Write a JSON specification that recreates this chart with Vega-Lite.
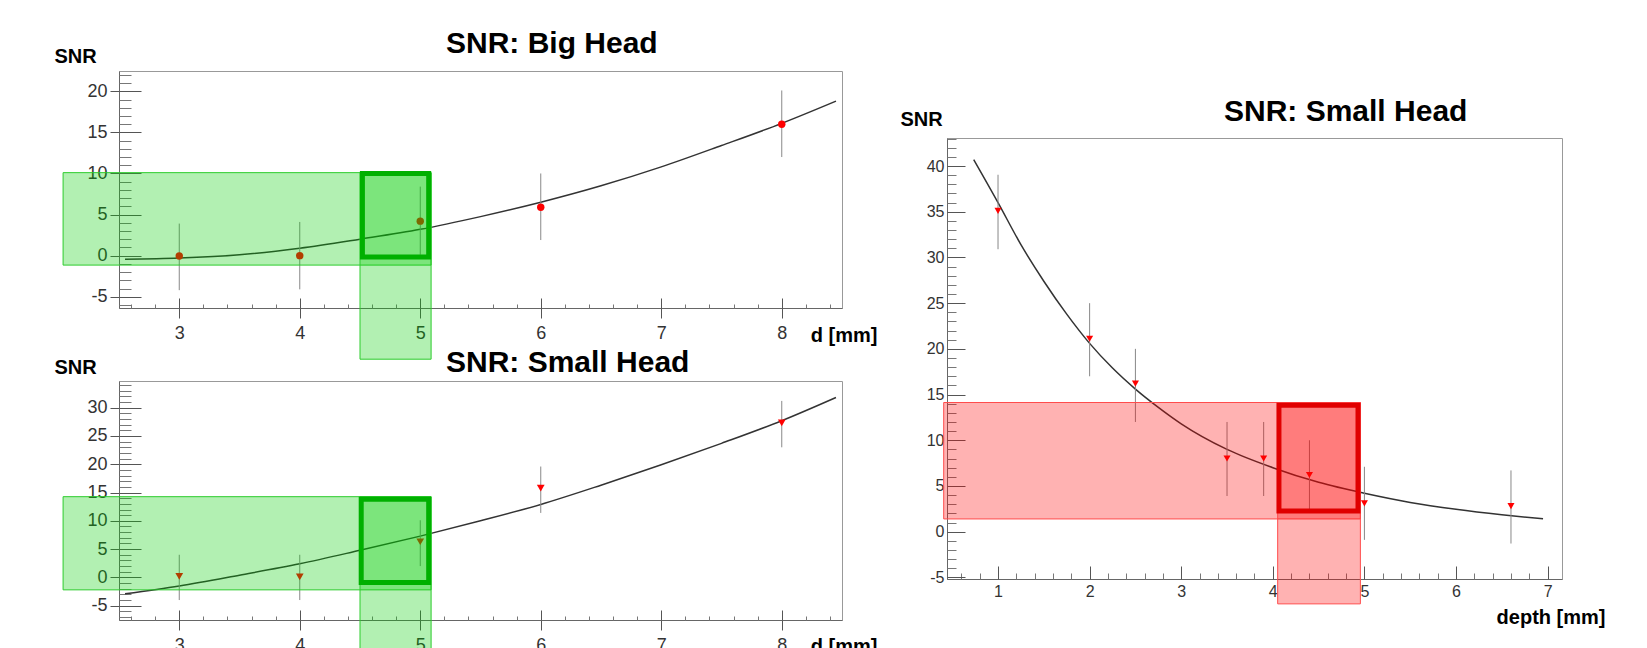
{
  "$schema": "https://vega.github.io/schema/vega-lite/v6.json",
  "background": "white",
  "padding": {"left": 53, "top": 28, "right": 5, "bottom": 0},
  "config": {
    "view": {"stroke": "#999", "strokeWidth": 1},
    "font": "Liberation Sans",
    "axis": {"grid": false, "labelOverlap": false, "labelFlush": false, "tickColor": "#555", "domainColor": "#666", "labelColor": "#333", "labelFont": "Liberation Sans Narrow, Liberation Sans, sans-serif", "titleFont": "Liberation Sans", "titleColor": "#000", "titleFontWeight": "bold", "labelExpr": "replace(datum.label, '\u2212', '-')"}
  },
  "spacing": 21,
  "bounds": "full",
  "hconcat": [
    {
      "spacing": 73,
      "bounds": "flush",
      "vconcat": [
        {
          "width": 723,
          "height": 237,
          "title": {"text": "SNR: Big Head", "anchor": "start", "frame": "group", "dx": 327, "dy": 37, "offset": 0, "baseline": "alphabetic", "fontSize": 30, "fontWeight": "bold", "font": "Liberation Sans", "color": "#000"},
          "resolve": {"axis": {"x": "independent", "y": "independent"}},
          "layer": [
            {
              "data": {"values": [{"d": 3, "snr": 0}]},
              "mark": {"type": "point", "opacity": 0},
              "encoding": {
                "x": {"field": "d", "type": "quantitative", "scale": {"domain": [2.5, 8.5], "nice": false, "zero": false},
                  "axis": {"orient": "bottom", "values": [3, 4, 5, 6, 7, 8], "tickSize": 10, "labelPadding": 6, "labelFontSize": 18, "title": "d [mm]", "titleFontSize": 20, "titleX": 758, "titleY": 33, "titleAlign": "right", "titleBaseline": "alphabetic"}},
                "y": {"field": "snr", "type": "quantitative", "scale": {"domain": [-6.37, 22.47], "nice": false, "zero": false},
                  "axis": {"orient": "left", "values": [-5, 0, 5, 10, 15, 20], "tickSize": 9, "labelPadding": 3, "labelFontSize": 18, "title": "SNR", "titleAngle": 0, "titleFontSize": 20, "titleX": -65, "titleY": -9, "titleAlign": "left", "titleBaseline": "alphabetic"}}
              }
            },
            {
              "data": {"values": [{"d": 3, "snr": 0}]},
              "mark": {"type": "point", "opacity": 0},
              "encoding": {
                "x": {"field": "d", "type": "quantitative", "scale": {"domain": [2.5, 8.5], "nice": false, "zero": false},
                  "axis": {"orient": "bottom", "values": [3, 4, 5, 6, 7, 8], "tickSize": -10, "labels": false, "domain": false, "title": null}},
                "y": {"field": "snr", "type": "quantitative", "scale": {"domain": [-6.37, 22.47], "nice": false, "zero": false},
                  "axis": {"orient": "left", "values": [-5, 0, 5, 10, 15, 20], "tickSize": -22, "labels": false, "domain": false, "title": null}}
              }
            },
            {
              "data": {"values": [{"d": 3, "snr": 0}]},
              "mark": {"type": "point", "opacity": 0},
              "encoding": {
                "x": {"field": "d", "type": "quantitative", "scale": {"domain": [2.5, 8.5], "nice": false, "zero": false},
                  "axis": {"orient": "bottom", "values": [2.6, 2.8, 3.2, 3.4, 3.6, 3.8, 4.2, 4.4, 4.6, 4.8, 5.2, 5.4, 5.6, 5.8, 6.2, 6.4, 6.6, 6.8, 7.2, 7.4, 7.6, 7.8, 8.2, 8.4], "tickSize": -4, "tickColor": "#777", "labels": false, "domain": false, "title": null}},
                "y": {"field": "snr", "type": "quantitative", "scale": {"domain": [-6.37, 22.47], "nice": false, "zero": false},
                  "axis": {"orient": "left", "values": [-6, -4, -3, -2, -1, 1, 2, 3, 4, 6, 7, 8, 9, 11, 12, 13, 14, 16, 17, 18, 19, 21, 22], "tickSize": -12, "tickColor": "#777", "labels": false, "domain": false, "title": null}}
              }
            },
            {
              "data": {"values": [
                {"d": 2.55, "snr": -0.45}, {"d": 3.0, "snr": -0.3}, {"d": 3.5, "snr": 0.1}, {"d": 4.0, "snr": 0.9},
                {"d": 4.5, "snr": 2.0}, {"d": 5.0, "snr": 3.2}, {"d": 5.5, "snr": 4.75}, {"d": 6.0, "snr": 6.5},
                {"d": 6.5, "snr": 8.5}, {"d": 7.0, "snr": 10.8}, {"d": 7.5, "snr": 13.4}, {"d": 8.0, "snr": 16.1}, {"d": 8.45, "snr": 18.8}
              ]},
              "mark": {"type": "line", "color": "#333", "strokeWidth": 1.5, "interpolate": "monotone"},
              "encoding": {
                "x": {"field": "d", "type": "quantitative", "scale": {"domain": [2.5, 8.5], "nice": false, "zero": false}, "axis": null},
                "y": {"field": "snr", "type": "quantitative", "scale": {"domain": [-6.37, 22.47], "nice": false, "zero": false}, "axis": null}
              }
            },
            {
              "data": {"values": [
                {"d": 3, "snr": -0.05, "lo": -4.2, "hi": 3.9},
                {"d": 4, "snr": 0.0, "lo": -4.1, "hi": 4.1},
                {"d": 5, "snr": 4.2, "lo": 0.1, "hi": 8.4},
                {"d": 6, "snr": 5.9, "lo": 1.9, "hi": 10.0},
                {"d": 8, "snr": 16.0, "lo": 12.0, "hi": 20.1}
              ]},
              "layer": [
                {
                  "mark": {"type": "rule", "color": "#888", "strokeWidth": 1},
                  "encoding": {
                    "x": {"field": "d", "type": "quantitative", "scale": {"domain": [2.5, 8.5], "nice": false, "zero": false}, "axis": null},
                    "y": {"field": "lo", "type": "quantitative", "scale": {"domain": [-6.37, 22.47], "nice": false, "zero": false}, "axis": null},
                    "y2": {"field": "hi"}
                  }
                },
                {
                  "mark": {"type": "point", "shape": "circle", "filled": true, "color": "#ff0000", "size": 55, "opacity": 1},
                  "encoding": {
                    "x": {"field": "d", "type": "quantitative", "scale": {"domain": [2.5, 8.5], "nice": false, "zero": false}, "axis": null},
                    "y": {"field": "snr", "type": "quantitative", "scale": {"domain": [-6.37, 22.47], "nice": false, "zero": false}, "axis": null}
                  }
                }
              ]
            },
            {
              "data": {"values": [
                {"a": 2.036, "b": 5.09, "lo": -1.15, "hi": 10.1},
                {"a": 4.5, "b": 5.09, "lo": -12.6, "hi": 10.1}
              ]},
              "mark": {"type": "rect", "fill": "#00cc00", "fillOpacity": 0.3, "stroke": "#2ccc2c", "strokeWidth": 1},
              "encoding": {
                "x": {"field": "a", "type": "quantitative", "scale": {"domain": [2.5, 8.5], "nice": false, "zero": false}, "axis": null},
                "x2": {"field": "b"},
                "y": {"field": "lo", "type": "quantitative", "scale": {"domain": [-6.37, 22.47], "nice": false, "zero": false}, "axis": null},
                "y2": {"field": "hi"}
              }
            },
            {
              "data": {"values": [{"a": 4.52, "b": 5.07, "lo": -0.15, "hi": 10.0}]},
              "mark": {"type": "rect", "fill": "#00b000", "fillOpacity": 0, "stroke": "#00b000", "strokeWidth": 5},
              "encoding": {
                "x": {"field": "a", "type": "quantitative", "scale": {"domain": [2.5, 8.5], "nice": false, "zero": false}, "axis": null},
                "x2": {"field": "b"},
                "y": {"field": "lo", "type": "quantitative", "scale": {"domain": [-6.37, 22.47], "nice": false, "zero": false}, "axis": null},
                "y2": {"field": "hi"}
              }
            }
          ]
        },
        {
          "width": 723,
          "height": 239,
          "title": {"text": "SNR: Small Head", "anchor": "start", "frame": "group", "dx": 327, "dy": 45, "offset": 0, "baseline": "alphabetic", "fontSize": 30, "fontWeight": "bold", "font": "Liberation Sans", "color": "#000"},
          "resolve": {"axis": {"x": "independent", "y": "independent"}},
          "layer": [
            {
              "data": {"values": [{"d": 3, "snr": 0}]},
              "mark": {"type": "point", "opacity": 0},
              "encoding": {
                "x": {"field": "d", "type": "quantitative", "scale": {"domain": [2.5, 8.5], "nice": false, "zero": false},
                  "axis": {"orient": "bottom", "values": [3, 4, 5, 6, 7, 8], "tickSize": 10, "labelPadding": 6, "labelFontSize": 18, "title": "d [mm]", "titleFontSize": 20, "titleX": 758, "titleY": 32, "titleAlign": "right", "titleBaseline": "alphabetic"}},
                "y": {"field": "snr", "type": "quantitative", "scale": {"domain": [-7.53, 34.72], "nice": false, "zero": false},
                  "axis": {"orient": "left", "values": [-5, 0, 5, 10, 15, 20, 25, 30], "tickSize": 9, "labelPadding": 3, "labelFontSize": 18, "title": "SNR", "titleAngle": 0, "titleFontSize": 20, "titleX": -65, "titleY": -8, "titleAlign": "left", "titleBaseline": "alphabetic"}}
              }
            },
            {
              "data": {"values": [{"d": 3, "snr": 0}]},
              "mark": {"type": "point", "opacity": 0},
              "encoding": {
                "x": {"field": "d", "type": "quantitative", "scale": {"domain": [2.5, 8.5], "nice": false, "zero": false},
                  "axis": {"orient": "bottom", "values": [3, 4, 5, 6, 7, 8], "tickSize": -10, "labels": false, "domain": false, "title": null}},
                "y": {"field": "snr", "type": "quantitative", "scale": {"domain": [-7.53, 34.72], "nice": false, "zero": false},
                  "axis": {"orient": "left", "values": [-5, 0, 5, 10, 15, 20, 25, 30], "tickSize": -22, "labels": false, "domain": false, "title": null}}
              }
            },
            {
              "data": {"values": [{"d": 3, "snr": 0}]},
              "mark": {"type": "point", "opacity": 0},
              "encoding": {
                "x": {"field": "d", "type": "quantitative", "scale": {"domain": [2.5, 8.5], "nice": false, "zero": false},
                  "axis": {"orient": "bottom", "values": [2.6, 2.8, 3.2, 3.4, 3.6, 3.8, 4.2, 4.4, 4.6, 4.8, 5.2, 5.4, 5.6, 5.8, 6.2, 6.4, 6.6, 6.8, 7.2, 7.4, 7.6, 7.8, 8.2, 8.4], "tickSize": -4, "tickColor": "#777", "labels": false, "domain": false, "title": null}},
                "y": {"field": "snr", "type": "quantitative", "scale": {"domain": [-7.53, 34.72], "nice": false, "zero": false},
                  "axis": {"orient": "left", "values": [-7, -6, -4, -3, -2, -1, 1, 2, 3, 4, 6, 7, 8, 9, 11, 12, 13, 14, 16, 17, 18, 19, 21, 22, 23, 24, 26, 27, 28, 29, 31, 32, 33, 34], "tickSize": -12, "tickColor": "#777", "labels": false, "domain": false, "title": null}}
              }
            },
            {
              "data": {"values": [
                {"d": 2.55, "snr": -2.9}, {"d": 3.0, "snr": -1.5}, {"d": 3.5, "snr": 0.4}, {"d": 4.0, "snr": 2.4},
                {"d": 4.5, "snr": 4.8}, {"d": 5.0, "snr": 7.3}, {"d": 5.5, "snr": 10.0}, {"d": 6.0, "snr": 12.9},
                {"d": 6.5, "snr": 16.3}, {"d": 7.0, "snr": 19.9}, {"d": 7.5, "snr": 23.7}, {"d": 8.0, "snr": 27.7}, {"d": 8.45, "snr": 31.8}
              ]},
              "mark": {"type": "line", "color": "#333", "strokeWidth": 1.5, "interpolate": "monotone"},
              "encoding": {
                "x": {"field": "d", "type": "quantitative", "scale": {"domain": [2.5, 8.5], "nice": false, "zero": false}, "axis": null},
                "y": {"field": "snr", "type": "quantitative", "scale": {"domain": [-7.53, 34.72], "nice": false, "zero": false}, "axis": null}
              }
            },
            {
              "data": {"values": [
                {"d": 3, "snr": 0.2, "lo": -4.0, "hi": 4.0},
                {"d": 4, "snr": 0.1, "lo": -4.0, "hi": 4.0},
                {"d": 5, "snr": 6.3, "lo": 2.0, "hi": 10.1},
                {"d": 6, "snr": 15.8, "lo": 11.4, "hi": 19.6},
                {"d": 8, "snr": 27.3, "lo": 23.0, "hi": 31.2}
              ]},
              "layer": [
                {
                  "mark": {"type": "rule", "color": "#888", "strokeWidth": 1},
                  "encoding": {
                    "x": {"field": "d", "type": "quantitative", "scale": {"domain": [2.5, 8.5], "nice": false, "zero": false}, "axis": null},
                    "y": {"field": "lo", "type": "quantitative", "scale": {"domain": [-7.53, 34.72], "nice": false, "zero": false}, "axis": null},
                    "y2": {"field": "hi"}
                  }
                },
                {
                  "mark": {"type": "point", "shape": "triangle-down", "filled": true, "color": "#ff0000", "size": 60, "opacity": 1},
                  "encoding": {
                    "x": {"field": "d", "type": "quantitative", "scale": {"domain": [2.5, 8.5], "nice": false, "zero": false}, "axis": null},
                    "y": {"field": "snr", "type": "quantitative", "scale": {"domain": [-7.53, 34.72], "nice": false, "zero": false}, "axis": null}
                  }
                }
              ]
            },
            {
              "data": {"values": [
                {"a": 2.036, "b": 5.09, "lo": -2.2, "hi": 14.27},
                {"a": 4.5, "b": 5.09, "lo": -20, "hi": 14.27}
              ]},
              "mark": {"type": "rect", "fill": "#00cc00", "fillOpacity": 0.3, "stroke": "#2ccc2c", "strokeWidth": 1},
              "encoding": {
                "x": {"field": "a", "type": "quantitative", "scale": {"domain": [2.5, 8.5], "nice": false, "zero": false}, "axis": null},
                "x2": {"field": "b"},
                "y": {"field": "lo", "type": "quantitative", "scale": {"domain": [-7.53, 34.72], "nice": false, "zero": false}, "axis": null},
                "y2": {"field": "hi"}
              }
            },
            {
              "data": {"values": [{"a": 4.51, "b": 5.07, "lo": -0.9, "hi": 13.83}]},
              "mark": {"type": "rect", "fill": "#00b000", "fillOpacity": 0, "stroke": "#00b000", "strokeWidth": 5},
              "encoding": {
                "x": {"field": "a", "type": "quantitative", "scale": {"domain": [2.5, 8.5], "nice": false, "zero": false}, "axis": null},
                "x2": {"field": "b"},
                "y": {"field": "lo", "type": "quantitative", "scale": {"domain": [-7.53, 34.72], "nice": false, "zero": false}, "axis": null},
                "y2": {"field": "hi"}
              }
            }
          ]
        }
      ]
    },
    {
      "spacing": 66,
      "bounds": "flush",
      "vconcat": [
        {
          "width": 615,
          "height": 1,
          "view": {"stroke": null},
          "data": {"values": [{"d": 0}]},
          "mark": {"type": "point", "opacity": 0, "size": 0},
          "encoding": {}
        },
        {
          "width": 615,
          "height": 441,
          "title": {"text": "SNR: Small Head", "anchor": "start", "frame": "group", "dx": 277, "dy": 41.5, "offset": 0, "baseline": "alphabetic", "fontSize": 30, "fontWeight": "bold", "font": "Liberation Sans", "color": "#000"},
          "resolve": {"axis": {"x": "independent", "y": "independent"}},
          "layer": [
            {
              "data": {"values": [{"d": 3, "snr": 0}]},
              "mark": {"type": "point", "opacity": 0},
              "encoding": {
                "x": {"field": "d", "type": "quantitative", "scale": {"domain": [0.443, 7.157], "nice": false, "zero": false},
                  "axis": {"orient": "bottom", "values": [1, 2, 3, 4, 5, 6, 7], "tickSize": 0, "labelPadding": 4, "labelFontSize": 16, "title": "depth [mm]", "titleFontSize": 20, "titleX": 658, "titleY": 44, "titleAlign": "right", "titleBaseline": "alphabetic"}},
                "y": {"field": "snr", "type": "quantitative", "scale": {"domain": [-5.18, 43.07], "nice": false, "zero": false},
                  "axis": {"orient": "left", "values": [-5, 0, 5, 10, 15, 20, 25, 30, 35, 40], "tickSize": 0, "labelPadding": 3, "labelFontSize": 16, "title": "SNR", "titleAngle": 0, "titleFontSize": 20, "titleX": -47, "titleY": -13, "titleAlign": "left", "titleBaseline": "alphabetic"}}
              }
            },
            {
              "data": {"values": [{"d": 3, "snr": 0}]},
              "mark": {"type": "point", "opacity": 0},
              "encoding": {
                "x": {"field": "d", "type": "quantitative", "scale": {"domain": [0.443, 7.157], "nice": false, "zero": false},
                  "axis": {"orient": "bottom", "values": [1, 2, 3, 4, 5, 6, 7], "tickSize": -13, "labels": false, "domain": false, "title": null}},
                "y": {"field": "snr", "type": "quantitative", "scale": {"domain": [-5.18, 43.07], "nice": false, "zero": false},
                  "axis": {"orient": "left", "values": [-5, 0, 5, 10, 15, 20, 25, 30, 35, 40], "tickSize": -18, "labels": false, "domain": false, "title": null}}
              }
            },
            {
              "data": {"values": [{"d": 3, "snr": 0}]},
              "mark": {"type": "point", "opacity": 0},
              "encoding": {
                "x": {"field": "d", "type": "quantitative", "scale": {"domain": [0.443, 7.157], "nice": false, "zero": false},
                  "axis": {"orient": "bottom", "values": [0.6, 0.8, 1.2, 1.4, 1.6, 1.8, 2.2, 2.4, 2.6, 2.8, 3.2, 3.4, 3.6, 3.8, 4.2, 4.4, 4.6, 4.8, 5.2, 5.4, 5.6, 5.8, 6.2, 6.4, 6.6, 6.8], "tickSize": -6, "tickColor": "#777", "labels": false, "domain": false, "title": null}},
                "y": {"field": "snr", "type": "quantitative", "scale": {"domain": [-5.18, 43.07], "nice": false, "zero": false},
                  "axis": {"orient": "left", "values": [-4, -3, -2, -1, 1, 2, 3, 4, 6, 7, 8, 9, 11, 12, 13, 14, 16, 17, 18, 19, 21, 22, 23, 24, 26, 27, 28, 29, 31, 32, 33, 34, 36, 37, 38, 39, 41, 42, 43], "tickSize": -9, "tickColor": "#777", "labels": false, "domain": false, "title": null}}
              }
            },
            {
              "data": {"values": [
                {"d": 0.735, "snr": 40.7}, {"d": 1.0, "snr": 36.0}, {"d": 1.25, "snr": 31.4}, {"d": 1.5, "snr": 27.4},
                {"d": 1.75, "snr": 23.8}, {"d": 2.0, "snr": 20.6}, {"d": 2.25, "snr": 17.9}, {"d": 2.5, "snr": 15.6},
                {"d": 2.75, "snr": 13.6}, {"d": 3.0, "snr": 11.8}, {"d": 3.5, "snr": 9.0}, {"d": 4.0, "snr": 7.0},
                {"d": 4.5, "snr": 5.4}, {"d": 5.0, "snr": 4.2}, {"d": 5.5, "snr": 3.2}, {"d": 6.0, "snr": 2.45},
                {"d": 6.5, "snr": 1.85}, {"d": 6.95, "snr": 1.4}
              ]},
              "mark": {"type": "line", "color": "#333", "strokeWidth": 1.5, "interpolate": "monotone"},
              "encoding": {
                "x": {"field": "d", "type": "quantitative", "scale": {"domain": [0.443, 7.157], "nice": false, "zero": false}, "axis": null},
                "y": {"field": "snr", "type": "quantitative", "scale": {"domain": [-5.18, 43.07], "nice": false, "zero": false}, "axis": null}
              }
            },
            {
              "data": {"values": [
                {"d": 1.0, "snr": 35.1, "lo": 30.9, "hi": 39.05},
                {"d": 2.0, "snr": 21.1, "lo": 17.0, "hi": 25.0},
                {"d": 2.5, "snr": 16.2, "lo": 12.0, "hi": 20.0},
                {"d": 3.5, "snr": 8.0, "lo": 3.9, "hi": 12.0},
                {"d": 3.9, "snr": 8.0, "lo": 3.9, "hi": 12.0},
                {"d": 4.4, "snr": 6.2, "lo": 2.4, "hi": 10.0},
                {"d": 5.0, "snr": 3.1, "lo": -0.9, "hi": 7.1},
                {"d": 6.6, "snr": 2.8, "lo": -1.3, "hi": 6.7}
              ]},
              "layer": [
                {
                  "mark": {"type": "rule", "color": "#888", "strokeWidth": 1},
                  "encoding": {
                    "x": {"field": "d", "type": "quantitative", "scale": {"domain": [0.443, 7.157], "nice": false, "zero": false}, "axis": null},
                    "y": {"field": "lo", "type": "quantitative", "scale": {"domain": [-5.18, 43.07], "nice": false, "zero": false}, "axis": null},
                    "y2": {"field": "hi"}
                  }
                },
                {
                  "mark": {"type": "point", "shape": "triangle-down", "filled": true, "color": "#ff0000", "size": 50, "opacity": 1},
                  "encoding": {
                    "x": {"field": "d", "type": "quantitative", "scale": {"domain": [0.443, 7.157], "nice": false, "zero": false}, "axis": null},
                    "y": {"field": "snr", "type": "quantitative", "scale": {"domain": [-5.18, 43.07], "nice": false, "zero": false}, "axis": null}
                  }
                }
              ]
            },
            {
              "data": {"values": [
                {"a": 0.407, "b": 4.956, "lo": 1.39, "hi": 14.13},
                {"a": 4.053, "b": 4.956, "lo": -7.9, "hi": 14.13}
              ]},
              "mark": {"type": "rect", "fill": "#ff0000", "fillOpacity": 0.3, "stroke": "#ff4c4c", "strokeWidth": 1},
              "encoding": {
                "x": {"field": "a", "type": "quantitative", "scale": {"domain": [0.443, 7.157], "nice": false, "zero": false}, "axis": null},
                "x2": {"field": "b"},
                "y": {"field": "lo", "type": "quantitative", "scale": {"domain": [-5.18, 43.07], "nice": false, "zero": false}, "axis": null},
                "y2": {"field": "hi"}
              }
            },
            {
              "data": {"values": [{"a": 4.067, "b": 4.93, "lo": 2.27, "hi": 13.82}]},
              "mark": {"type": "rect", "fill": "#e00000", "fillOpacity": 0, "stroke": "#e00000", "strokeWidth": 5},
              "encoding": {
                "x": {"field": "a", "type": "quantitative", "scale": {"domain": [0.443, 7.157], "nice": false, "zero": false}, "axis": null},
                "x2": {"field": "b"},
                "y": {"field": "lo", "type": "quantitative", "scale": {"domain": [-5.18, 43.07], "nice": false, "zero": false}, "axis": null},
                "y2": {"field": "hi"}
              }
            }
          ]
        }
      ]
    }
  ]
}
